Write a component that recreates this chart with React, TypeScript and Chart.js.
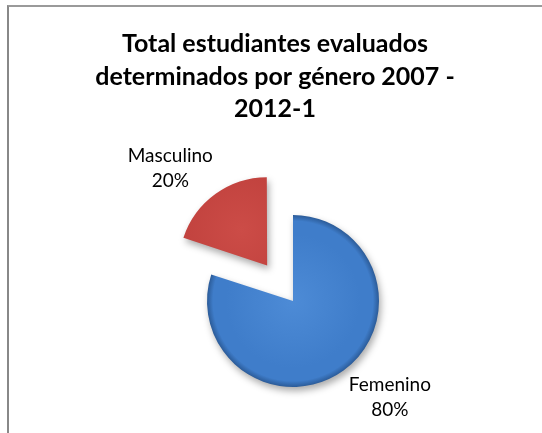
import React, { useEffect, useRef } from "react";
import { Chart, registerables } from "chart.js";

Chart.register(...registerables);

const titleLines = ["Total estudiantes evaluados", "determinados por género 2007 -", "2012-1"];
const categories = ["Femenino", "Masculino"];
const values = [80, 20];
const percentLabels = ["80%", "20%"];
const explodePx = [0, 44];
const innerColors = ["#4d8bd6", "#cc4c47"];
const midColors = ["#3f7dca", "#c0413d"];
const rimColors = ["#2b5b98", "#8e2b28"];

const TITLE_FONT = "bold 25px Lato, 'Open Sans', sans-serif";
const LABEL_FONT = "19px Lato, 'Open Sans', sans-serif";
const PIE_RADIUS = 86;
const LABEL_DIST = 137 / 86;
const LABEL_ANGLE_SHIFT = (-9 * Math.PI) / 180;

function pieCenter(chart: any) {
  const a = chart.chartArea;
  return { x: (a.left + a.right) / 2, y: (a.top + a.bottom) / 2 };
}

function sliceAngles(i: number) {
  const total = values.reduce((s, v) => s + v, 0);
  let start = -Math.PI / 2;
  for (let k = 0; k < i; k++) start += (values[k] / total) * Math.PI * 2;
  const end = start + (values[i] / total) * Math.PI * 2;
  return { start, end, mid: (start + end) / 2 };
}

const titlePlugin = {
  id: "excelTitle",
  afterDraw(chart: any) {
    const ctx = chart.ctx;
    ctx.save();
    ctx.font = TITLE_FONT;
    ctx.fillStyle = "#000";
    ctx.textAlign = "center";
    ctx.textBaseline = "alphabetic";
    titleLines.forEach((line, i) => {
      ctx.fillText(line, 275, 52 + i * 32.5);
    });
    ctx.restore();
  },
};

const shadowPlugin = {
  id: "pieShadow",
  beforeDatasetsDraw(chart: any) {
    const ctx = chart.ctx;
    ctx.save();
    ctx.shadowColor = "rgba(0,0,0,0.33)";
    ctx.shadowBlur = 7;
    ctx.shadowOffsetX = 2;
    ctx.shadowOffsetY = 4;
  },
  afterDatasetsDraw(chart: any) {
    chart.ctx.restore();
  },
};

const labelPlugin = {
  id: "sliceLabels",
  afterDatasetsDraw(chart: any) {
    const ctx = chart.ctx;
    const meta = chart.getDatasetMeta(0);
    ctx.save();
    ctx.font = LABEL_FONT;
    ctx.fillStyle = "#000";
    ctx.textAlign = "center";
    ctx.textBaseline = "middle";
    meta.data.forEach((arc: any, i: number) => {
      const p = arc.getProps(["x", "y", "startAngle", "endAngle", "outerRadius"], true);
      const mid = (p.startAngle + p.endAngle) / 2;
      const ox = p.x + Math.cos(mid) * explodePx[i];
      const oy = p.y + Math.sin(mid) * explodePx[i];
      const a = mid + LABEL_ANGLE_SHIFT;
      const d = p.outerRadius * LABEL_DIST;
      const lx = ox + Math.cos(a) * d;
      const ly = oy + Math.sin(a) * d;
      ctx.fillText(categories[i], lx, ly - 12.5);
      ctx.fillText(percentLabels[i], lx, ly + 12.5);
    });
    ctx.restore();
  },
};

export default function App() {
  const ref = useRef<HTMLCanvasElement>(null);

  useEffect(() => {
    const canvas = ref.current;
    if (!canvas) return;
    const chart = new Chart(canvas, {
      type: "pie",
      data: {
        labels: categories,
        datasets: [
          {
            data: values,
            radius: PIE_RADIUS,
            borderWidth: 0,
            offset: explodePx.map((v) => v * 4),
            hoverOffset: 0,
            backgroundColor: (c: any) => {
              const chartObj = c.chart;
              const i = c.dataIndex;
              if (!chartObj.chartArea || i === undefined) return midColors[i || 0];
              const ctr = pieCenter(chartObj);
              const { mid } = sliceAngles(i);
              const cx = ctr.x + Math.cos(mid) * explodePx[i];
              const cy = ctr.y + Math.sin(mid) * explodePx[i];
              const g = chartObj.ctx.createRadialGradient(cx, cy, 0, cx, cy, PIE_RADIUS);
              g.addColorStop(0, innerColors[i]);
              g.addColorStop(0.78, midColors[i]);
              g.addColorStop(0.93, midColors[i]);
              g.addColorStop(1, rimColors[i]);
              return g;
            },
          } as any,
        ],
      },
      options: {
        responsive: false,
        animation: false,
        events: [],
        layout: { padding: { left: 52, right: 8, top: 170, bottom: 1 } },
        plugins: {
          legend: { display: false },
          title: { display: false },
          tooltip: { enabled: false },
        },
      },
      plugins: [shadowPlugin, labelPlugin, titlePlugin],
    });
    return () => chart.destroy();
  }, []);

  return (
    <div
      style={{
        position: "fixed",
        left: 0,
        top: 0,
        width: 542,
        height: 433,
        background: "#fff",
        overflow: "hidden",
      }}
    >
      <div
        style={{
          position: "absolute",
          left: 7,
          top: 5,
          width: 600,
          height: 600,
          borderLeft: "2px solid #888",
          borderTop: "2px solid #9a9a9a",
        }}
      />
      <canvas
        ref={ref}
        width={542}
        height={433}
        style={{ position: "absolute", left: 0, top: 0, width: 542, height: 433 }}
      />
    </div>
  );
}
